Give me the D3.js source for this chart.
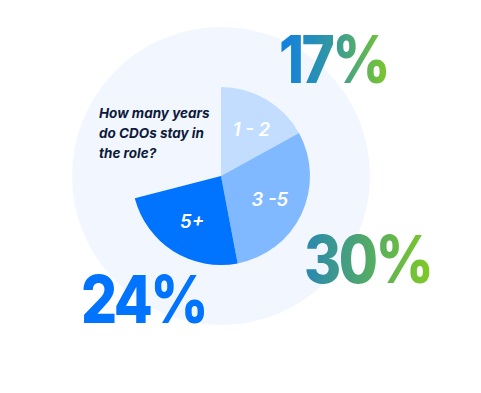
<!DOCTYPE html>
<html>
<head>
<meta charset="utf-8">
<script src="https://cdn.jsdelivr.net/npm/d3@7"></script>
<style>
  body { margin: 0; background: #fff; }
  svg { display: block; }
</style>
</head>
<body>
<div id="chart"></div>
<script>
const categories = ["1 - 2", "3 -5", "5+"];
const values = [17, 30, 24];
const sliceColors = ["#c2ddff", "#80b9ff", "#0073ff"];
const question = ["How many years", "do CDOs stay in", "the role?"];

const W = 481, H = 393;
const cx = 221, cy = 176;

const svg = d3.select("#chart").append("svg").attr("width", W).attr("height", H);

const defs = svg.append("defs");
const g1 = defs.append("linearGradient").attr("id", "grad17").attr("x1", "0%").attr("x2", "100%");
g1.append("stop").attr("offset", "0%").attr("stop-color", "#0f7fe6");
g1.append("stop").attr("offset", "45%").attr("stop-color", "#2f95a6");
g1.append("stop").attr("offset", "100%").attr("stop-color", "#7cc82a");
const g2 = defs.append("linearGradient").attr("id", "grad30").attr("x1", "0%").attr("x2", "100%");
g2.append("stop").attr("offset", "0%").attr("stop-color", "#2888b2");
g2.append("stop").attr("offset", "50%").attr("stop-color", "#52aa68");
g2.append("stop").attr("offset", "100%").attr("stop-color", "#80ca24");

// background disc
svg.append("circle").attr("cx", cx).attr("cy", cy).attr("r", 149).attr("fill", "#f2f7ff");

// slices take their share of the full circle (values are percents of 100)
const angle = d3.scaleLinear().domain([0, 100]).range([0, 2 * Math.PI]);
const arc = d3.arc().innerRadius(0).outerRadius(89);

let acc = 0;
const slices = values.map((v, i) => {
  const s = { cat: categories[i], value: v, startAngle: angle(acc), endAngle: angle(acc + v), color: sliceColors[i] };
  acc += v;
  return s;
});

const pie = svg.append("g").attr("transform", `translate(${cx},${cy})`);
pie.selectAll("path").data(slices).join("path")
  .attr("d", arc)
  .attr("fill", d => d.color);

const labelArc = d3.arc().innerRadius(54).outerRadius(54);
pie.selectAll("text").data(slices).join("text")
  .attr("transform", d => {
    const c = labelArc.centroid(d);
    return `translate(${c[0] + (d.cat === "1 - 2" ? 3 : 0)},${c[1]})`;
  })
  .attr("text-anchor", "middle")
  .attr("dy", "0.36em")
  .attr("fill", "#fff")
  .attr("font-family", "Inter, sans-serif")
  .attr("font-weight", 600)
  .attr("font-style", "italic")
  .attr("font-size", 18.5)
  .text(d => d.cat);

// question
svg.append("text")
  .attr("font-family", "Inter, sans-serif")
  .attr("font-weight", 700)
  .attr("font-style", "italic")
  .attr("font-size", 13.5)
  .attr("fill", "#0e1a3a")
  .selectAll("tspan").data(question).join("tspan")
  .attr("x", 99)
  .attr("y", (d, i) => 118 + i * 20)
  .text(d => d);

// big percentages, slightly condensed
const big = (x, y, fill, txt) => svg.append("text")
  .attr("transform", `translate(${x},${y}) scale(0.86,1)`)
  .attr("font-family", "Inter, sans-serif")
  .attr("font-weight", 800)
  .attr("font-size", 66)
  .attr("letter-spacing", -3)
  .attr("fill", fill)
  .text(txt);

big(279, 83, "url(#grad17)", values[0] + "%");
big(304, 283, "url(#grad30)", values[1] + "%");
big(81, 323, "#0073ff", values[2] + "%");
</script>
</body>
</html>
